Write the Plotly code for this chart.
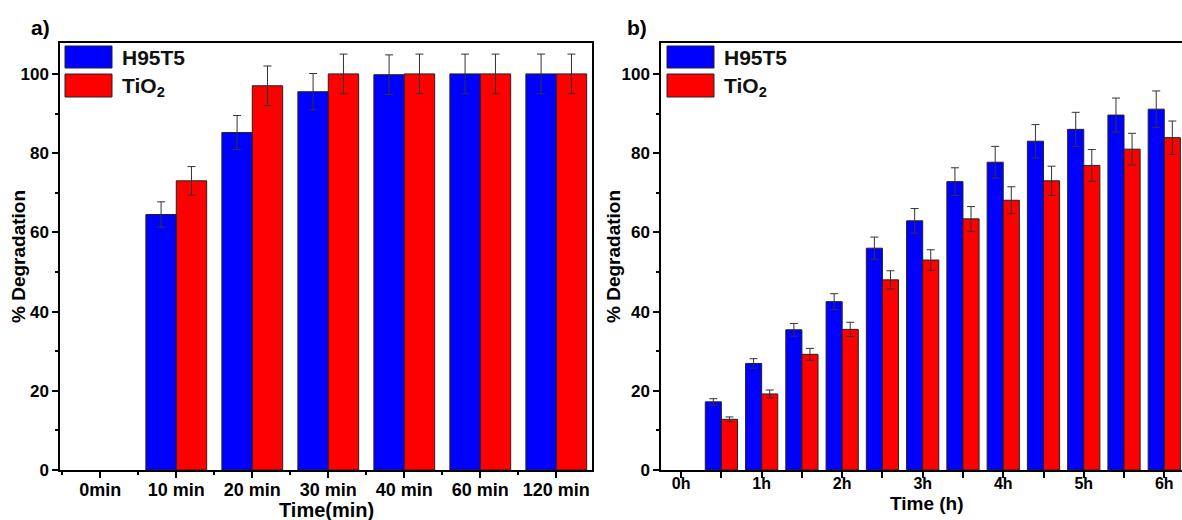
import plotly.graph_objects as go
from plotly.subplots import make_subplots

# panel a: minutes
min_labels = ["0min", "10 min", "20 min", "30 min", "40 min", "60 min", "120 min"]
h95t5_min = [0, 64.5, 85.2, 95.5, 99.8, 100, 100]
h95t5_min_err = [0, 3.2, 4.3, 4.6, 5.0, 5.0, 5.0]
tio2_min = [0, 73.0, 97.0, 100, 100, 100, 100]
tio2_min_err = [0, 3.6, 5.0, 5.0, 5.0, 5.0, 5.0]

# panel b: hours
hours = [0.5, 1, 1.5, 2, 2.5, 3, 3.5, 4, 4.5, 5, 5.5, 6]
hour_labels = ["0h", "1h", "2h", "3h", "4h", "5h", "6h"]
h95t5_h = [17.2, 26.9, 35.4, 42.5, 56.0, 62.9, 72.8, 77.7, 83.0, 86.0, 89.6, 91.1]
h95t5_h_err = [0.8, 1.2, 1.6, 2.0, 2.8, 3.1, 3.5, 4.0, 4.2, 4.3, 4.3, 4.6]
tio2_h = [12.8, 19.2, 29.2, 35.5, 48.0, 53.0, 63.4, 68.1, 73.0, 76.9, 81.0, 83.9]
tio2_h_err = [0.6, 1.0, 1.5, 1.8, 2.3, 2.6, 3.1, 3.4, 3.7, 4.0, 4.0, 4.2]

BLUE = "#0000ff"
RED = "#ff0000"
FONT = "Liberation Sans"

fig = make_subplots(rows=1, cols=2)

err_style = dict(type="data", color="#333333", thickness=1, width=4)
bar_line = dict(color="#222222", width=1)

# 0min has no bar in the original, so skip drawing it (value stays 0 in the list)
x_min = list(range(len(min_labels)))
def hide_zero(vals):
    return [v if v != 0 else None for v in vals]

fig.add_trace(go.Bar(x=x_min, y=hide_zero(h95t5_min), marker=dict(color=BLUE, line=bar_line),
                     error_y=dict(array=h95t5_min_err, **err_style), name="H95T5"), row=1, col=1)
fig.add_trace(go.Bar(x=x_min, y=hide_zero(tio2_min), marker=dict(color=RED, line=bar_line),
                     error_y=dict(array=tio2_min_err, **err_style), name="TiO2"), row=1, col=1)
fig.add_trace(go.Bar(x=hours, y=h95t5_h, marker=dict(color=BLUE, line=bar_line),
                     error_y=dict(array=h95t5_h_err, **err_style), name="H95T5"), row=1, col=2)
fig.add_trace(go.Bar(x=hours, y=tio2_h, marker=dict(color=RED, line=bar_line),
                     error_y=dict(array=tio2_h_err, **err_style), name="TiO2"), row=1, col=2)

axis_common = dict(showline=True, linecolor="black", linewidth=1.5, ticks="outside",
                   ticklen=6, tickwidth=1.5, tickcolor="black", showgrid=False,
                   zeroline=False, automargin=False)
minor_tick = dict(ticklen=3, tickwidth=1.5, tickcolor="black", ticks="outside")

def tfont(size):
    return dict(family=FONT, size=size, color="black", weight="bold")

ydom = [50 / 520, 477 / 520]
fig.update_xaxes(domain=[60 / 1182, 592 / 1182], range=[-0.53, 6.47], mirror=True,
                 tickvals=x_min, ticktext=min_labels, ticklabelstandoff=-3, tickfont=tfont(18),
                 minor=dict(tick0=0.5, dtick=1, **minor_tick),
                 **axis_common, row=1, col=1)
fig.update_xaxes(domain=[661 / 1182, 1.0], range=[-0.25, 6.22], mirror=True,
                 tickvals=list(range(len(hour_labels))), ticktext=hour_labels,
                 ticklabelstandoff=-8, tickfont=tfont(16),
                 minor=dict(tick0=0.5, dtick=1, **dict(minor_tick, ticklen=6)),
                 **axis_common, row=1, col=2)
fig.update_yaxes(domain=ydom, range=[0, 107.8], dtick=20, mirror=True, tickfont=tfont(17),
                 minor=dict(tick0=10, dtick=20, **minor_tick),
                 **axis_common, row=1, col=1)
fig.update_yaxes(domain=ydom, range=[0, 107.8], dtick=20, mirror=False, tickfont=tfont(17),
                 minor=dict(tick0=10, dtick=20, **minor_tick),
                 **axis_common, row=1, col=2)

# hand-drawn legends with large colour boxes
shapes = []
annotations = []
for x0, x1, tx in [(65, 112, 120), (667, 714, 722)]:
    shapes.append(dict(type="rect", xref="paper", yref="paper",
                       x0=x0 / 1182, x1=x1 / 1182, y0=1 - 68 / 520, y1=1 - 46 / 520,
                       fillcolor=BLUE, line=dict(color="#222222", width=1)))
    shapes.append(dict(type="rect", xref="paper", yref="paper",
                       x0=x0 / 1182, x1=x1 / 1182, y0=1 - 97 / 520, y1=1 - 74 / 520,
                       fillcolor=RED, line=dict(color="#222222", width=1)))
    annotations.append(dict(text="<b>H95T5</b>", x=tx / 1182, y=1 - 57 / 520, xref="paper", yref="paper",
                            xanchor="left", yanchor="middle", showarrow=False,
                            font=dict(family=FONT, size=21, color="#111")))
    annotations.append(dict(text="<b>TiO<sub>2</sub></b>", x=tx / 1182, y=1 - 87 / 520, xref="paper", yref="paper",
                            xanchor="left", yanchor="middle", showarrow=False,
                            font=dict(family=FONT, size=21, color="#111")))

def note(text, x, y, size=19, angle=0, anchor="center"):
    return dict(text=text, x=x / 1182, y=1 - y / 520, xref="paper", yref="paper",
                xanchor=anchor, yanchor="middle", textangle=angle, showarrow=False,
                font=dict(family=FONT, size=size, color="black"))

annotations += [
    note("<b>a)</b>", 29, 27, size=21, anchor="left"),
    note("<b>b)</b>", 625, 27, size=21, anchor="left"),
    note("<b>% Degradation</b>", 18, 257, angle=-90),
    note("<b>% Degradation</b>", 613, 257, angle=-90),
    note("<b>Time(min)</b>", 326, 510, size=20),
    note("<b>Time (h)</b>", 927, 503, size=19),
]

fig.update_layout(width=1182, height=520, margin=dict(l=0, r=0, t=0, b=0),
                  plot_bgcolor="white", paper_bgcolor="white", showlegend=False,
                  barmode="group", bargap=0.2, bargroupgap=0,
                  shapes=shapes, annotations=annotations)

# drop the default page margin so the figure fills the window exactly
fig.write_html("out.html", config={"displayModeBar": False},
               post_script="document.body.style.margin='0';")
